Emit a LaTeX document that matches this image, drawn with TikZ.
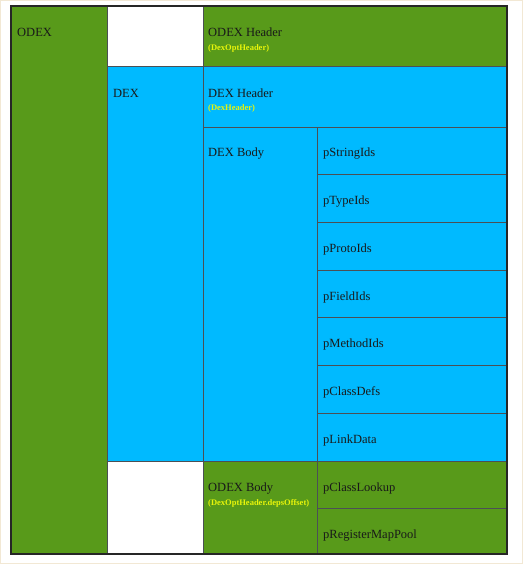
\documentclass[tikz,border=0pt]{standalone}
\usepackage{fontspec}
\setmainfont{Liberation Serif}
\definecolor{gruen}{RGB}{88,154,26}
\definecolor{blau}{RGB}{0,186,255}
\definecolor{gelb}{RGB}{232,245,10}
\definecolor{linie}{RGB}{75,80,85}
\definecolor{rand}{RGB}{242,232,212}
\begin{document}
\begin{tikzpicture}[x=1pt,y=-1pt,
	feld/.style={draw=linie,line width=0.9pt},
	titel/.style={anchor=base west,inner sep=0pt,text=black!90,font=\fontsize{12.5}{15}\selectfont},
	unter/.style={anchor=base west,inner sep=0pt,text=gelb,font=\bfseries\fontsize{8.5}{10}\selectfont}]
\useasboundingbox (0,0) rectangle (523,564);
\draw[draw=rand,line width=1pt] (0.5,0.5) rectangle (522.5,563.5);
\def\hoehe{47.714}
% ODEX und DEX
\draw[feld,fill=gruen] (11,6) rectangle (107,554);
\draw[feld,fill=white] (107,6) rectangle (203,66);
\draw[feld,fill=blau] (107,66) rectangle (203,461);
\draw[feld,fill=white] (107,461) rectangle (203,554);
\node[titel] (odex) at (17,37) {ODEX};
\node[titel] (dex) at (113,97.5) {DEX};
% Header
\draw[feld,fill=gruen] (203,6) rectangle (507,66);
\node[titel] (odexheader) at (208,37) {ODEX Header};
\node[unter] (odexheadertyp) at (208,50.5) {(DexOptHeader)};
\draw[feld,fill=blau] (203,66) rectangle (507,127);
\node[titel] (dexheader) at (208,97.5) {DEX Header};
\node[unter] (dexheadertyp) at (208,111) {(DexHeader)};
% DEX Body
\draw[feld,fill=blau] (203,127) rectangle (317,461);
\node[titel] (dexbody) at (208,157) {DEX Body};
\foreach \name [count=\i from 0] in {pStringIds,pTypeIds,pProtoIds,pFieldIds,pMethodIds,pClassDefs,pLinkData}{
	\draw[feld,fill=blau] (317,{127+\i*\hoehe}) rectangle (507,{127+(\i+1)*\hoehe});
	\node[titel] (\name) at (323,{157+\i*\hoehe}) {\name};
}
% ODEX Body
\draw[feld,fill=gruen] (203,461) rectangle (317,554);
\node[titel] (odexbody) at (208,491) {ODEX Body};
\node[unter] (odexbodytyp) at (208,505) {(DexOptHeader.depsOffset)};
\foreach \name/\oben/\unten in {pClassLookup/461/508,pRegisterMapPool/508/554}{
	\draw[feld,fill=gruen] (317,\oben) rectangle (507,\unten);
	\node[titel] (\name) at (323,{\oben+30}) {\name};
}
\draw[line width=1.5pt,draw=black!85] (11,6) rectangle (507,554);
\end{tikzpicture}
\end{document}
